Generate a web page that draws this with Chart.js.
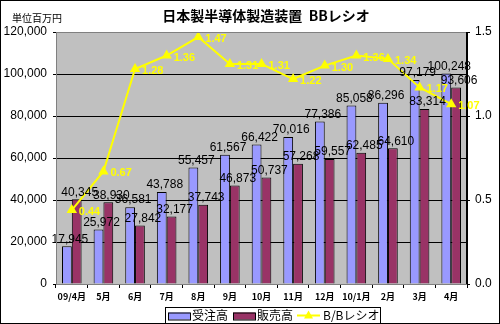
<!DOCTYPE html>
<html>
<head>
<meta charset="utf-8">
<script src="https://cdn.jsdelivr.net/npm/chart.js@4.4.1/dist/chart.umd.min.js"></script>
<style>
  html, body { margin: 0; padding: 0; background: #fff; }
  #wrap { position: relative; width: 500px; height: 324px; }
</style>
</head>
<body>
<div id="wrap"><canvas id="bb" width="500" height="324"></canvas></div>
<script>
const months = ['09/4月', '5月', '6月', '7月', '8月', '9月', '10月', '11月', '12月', '10/1月', '2月', '3月', '4月'];
const orders = [17945, 25972, 36581, 43788, 55457, 61567, 66422, 70016, 77386, 85058, 86296, 97179, 100248];
const sales = [40345, 38930, 27842, 32177, 37743, 46873, 50737, 57268, 59557, 62485, 64610, 83314, 93606];
const bbRatio = [0.44, 0.67, 1.28, 1.36, 1.47, 1.31, 1.31, 1.22, 1.30, 1.36, 1.34, 1.17, 1.07];

const JP = "'Noto Sans CJK JP', 'Liberation Sans', sans-serif";
const NUM = "'Liberation Sans', 'DejaVu Sans', sans-serif";

// grey plot area, frame, title, unit label, legend
const framePlugin = {
  id: 'frame',
  beforeDraw(chart) {
    const { ctx, chartArea: a } = chart;
    ctx.save();
    ctx.fillStyle = '#fff';
    ctx.fillRect(0, 0, chart.width, chart.height);
    ctx.fillStyle = '#c0c0c0';
    ctx.fillRect(a.left, a.top, a.right - a.left, a.bottom - a.top);
    ctx.restore();
  },
  afterDraw(chart) {
    const { ctx, chartArea: a } = chart;
    ctx.save();
    ctx.strokeStyle = '#808080';
    ctx.lineWidth = 1;
    ctx.strokeRect(a.left + 0.5, a.top + 0.5, a.right - a.left - 1, a.bottom - a.top);
    ctx.strokeStyle = '#000';
    ctx.beginPath();
    ctx.moveTo(a.right - 0.5, a.top);
    ctx.lineTo(a.right - 0.5, a.bottom);
    ctx.stroke();
    ctx.strokeRect(0.5, 0.5, chart.width - 1, chart.height - 1);

    ctx.fillStyle = '#000';
    ctx.font = 'bold 14px ' + JP;
    ctx.textAlign = 'center';
    ctx.textBaseline = 'middle';
    ctx.fillText('日本製半導体製造装置  BBレシオ', 266, 16);
    ctx.font = '10px ' + JP;
    ctx.textAlign = 'left';
    ctx.fillText('単位百万円', 12, 18);

    // legend
    const lx = 165, ly = 307, lw = 215, lh = 16;
    ctx.fillStyle = '#fff';
    ctx.fillRect(lx, ly, lw, lh);
    ctx.strokeStyle = '#000';
    ctx.strokeRect(lx + 0.5, ly + 0.5, lw, lh);
    const my = ly + lh / 2 + 0.5;
    ctx.fillStyle = '#9999ff';
    ctx.fillRect(168, my - 3, 22, 7);
    ctx.strokeRect(168.5, my - 2.5, 22, 7);
    ctx.fillStyle = '#993366';
    ctx.fillRect(233, my - 3, 22, 7);
    ctx.strokeRect(233.5, my - 2.5, 22, 7);
    ctx.strokeStyle = '#ffff00';
    ctx.lineWidth = 2;
    ctx.beginPath();
    ctx.moveTo(297, my);
    ctx.lineTo(320, my);
    ctx.stroke();
    ctx.fillStyle = '#ffff00';
    ctx.beginPath();
    ctx.moveTo(308.5, my - 5);
    ctx.lineTo(313, my + 3);
    ctx.lineTo(304, my + 3);
    ctx.closePath();
    ctx.fill();
    ctx.fillStyle = '#000';
    ctx.font = '12px ' + JP;
    ctx.textBaseline = 'middle';
    ctx.fillText(chart.data.datasets[0].label, 192, my);
    ctx.fillText(chart.data.datasets[1].label, 257, my);
    ctx.fillText(chart.data.datasets[2].label, 323, my);
    ctx.restore();
  }
};

// value labels on bars and ratio points
const valueLabels = {
  id: 'valueLabels',
  afterDatasetsDraw(chart) {
    const ctx = chart.ctx;
    ctx.save();
    ctx.font = '12px ' + NUM;
    ctx.fillStyle = '#000';
    ctx.textAlign = 'center';
    ctx.textBaseline = 'bottom';
    [0, 1].forEach(i => {
      const meta = chart.getDatasetMeta(i);
      meta.data.forEach((bar, j) => {
        const v = chart.data.datasets[i].data[j];
        ctx.fillText(v.toLocaleString('en-US'), bar.x + 3, bar.y - 1);
      });
    });
    ctx.font = 'bold 11px ' + NUM;
    ctx.fillStyle = '#ffff00';
    ctx.textAlign = 'left';
    ctx.textBaseline = 'middle';
    const lm = chart.getDatasetMeta(2);
    lm.data.forEach((pt, j) => {
      ctx.fillText(bbRatio[j].toFixed(2), pt.x + 7, pt.y + 2);
    });
    ctx.restore();
  }
};

new Chart(document.getElementById('bb'), {
  type: 'bar',
  data: {
    labels: months,
    datasets: [
      {
        label: '受注高',
        data: orders,
        backgroundColor: '#9999ff',
        borderColor: '#000',
        borderWidth: 1,
        yAxisID: 'y',
        order: 2,
        categoryPercentage: 0.62,
        barPercentage: 1.0,
      },
      {
        label: '販売高',
        data: sales,
        backgroundColor: '#993366',
        borderColor: '#000',
        borderWidth: 1,
        yAxisID: 'y',
        order: 2,
        categoryPercentage: 0.62,
        barPercentage: 1.0,
      },
      {
        type: 'line',
        label: 'B/Bレシオ',
        data: bbRatio,
        borderColor: '#ffff00',
        backgroundColor: '#ffff00',
        borderWidth: 2,
        pointStyle: 'triangle',
        pointRadius: 6,
        pointBorderWidth: 0,
        tension: 0,
        yAxisID: 'y1',
        order: 0,
      }
    ]
  },
  options: {
    responsive: false,
    animation: false,
    layout: { padding: { top: 32, left: 0, right: 0, bottom: 0 } },
    scales: {
      x: {
        offset: true,
        grid: { display: true, drawOnChartArea: false, color: '#000', tickLength: 4, offset: true },
        border: { color: '#000' },
        ticks: {
          color: '#000',
          font: { family: JP, size: 9, weight: 'bold' },
          maxRotation: 0,
          autoSkip: false,
          padding: 3,
        },
        afterFit(s) { s.height = 40; },
      },
      y: {
        position: 'left',
        min: 0,
        max: 120000,
        ticks: {
          stepSize: 20000,
          color: '#000',
          font: { family: NUM, size: 12 },
          padding: 6,
          callback: v => v.toLocaleString('en-US'),
        },
        grid: { color: '#000', drawTicks: true, tickLength: 3 },
        border: { color: '#000' },
        afterFit(s) { s.width = 56; },
      },
      y1: {
        position: 'right',
        min: 0,
        max: 1.5,
        ticks: {
          stepSize: 0.5,
          color: '#000',
          font: { family: NUM, size: 12 },
          padding: 5,
          callback: v => v.toFixed(1),
        },
        grid: { drawOnChartArea: false, color: '#000', tickLength: 3 },
        border: { color: '#000' },
        afterFit(s) { s.width = 33; },
      }
    },
    plugins: {
      legend: { display: false },
      title: { display: false },
      tooltip: { enabled: false },
    }
  },
  plugins: [framePlugin, valueLabels]
});
</script>
</body>
</html>
